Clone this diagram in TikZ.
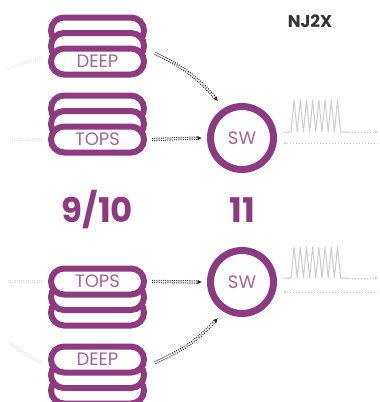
\documentclass[tikz,border=0pt]{standalone}
\usepackage{fontspec}
\setmainfont{Poppins}
\usetikzlibrary{arrows.meta}
\definecolor{plum}{RGB}{142,58,128}
\definecolor{plumtext}{RGB}{165,100,152}
\definecolor{wavegrey}{RGB}{205,205,205}

\begin{document}
\begin{tikzpicture}[x=1pt, y=-1pt,
		pill/.style={draw=plum, line width=6pt, fill=white, rounded corners=13pt, minimum width=93pt, minimum height=26pt, inner sep=0pt, text=plumtext, font=\fontsize{18}{18}\selectfont},
		switch/.style={circle, draw=plum, line width=7pt, minimum size=63pt, inner sep=0pt, text=plumtext, font=\fontsize{18}{18}\selectfont},
		big/.style={text=plum, font=\bfseries\fontsize{34}{34}\selectfont},
		sig/.style={draw=black!85, double, double distance=1.3pt, line width=1pt, dash pattern=on 1pt off 1.2pt, -{Latex[length=4.5pt,width=4.5pt]}},
		faint/.style={draw=black!15, double, double distance=1.2pt, line width=0.8pt, dash pattern=on 0.9pt off 1.3pt},
		wave/.style={draw=wavegrey, line width=1pt, line join=round},
		wavedot/.style={draw=wavegrey, line width=1pt, dash pattern=on 1pt off 2pt, -{Latex[length=3pt,width=3pt]}}]
	\useasboundingbox (0,0) rectangle (380,402);

	% upper stacks
	\node[pill] (deepC) at (97.5,30.5) {};
	\node[pill] (deepB) at (97.5,46) {};
	\node[pill] (deep1) at (97.5,61.5) {DEEP};
	\node[pill] (topsC) at (97.5,108.5) {};
	\node[pill] (topsB) at (97.5,124) {};
	\node[pill] (tops1) at (97.5,139.5) {TOPS};

	% lower stacks
	\node[pill] (topsE) at (97.5,312.5) {};
	\node[pill] (topsD) at (97.5,297) {};
	\node[pill] (tops2) at (97.5,281.5) {TOPS};
	\node[pill] (deepE) at (97.5,390.5) {};
	\node[pill] (deepD) at (97.5,375) {};
	\node[pill] (deep2) at (97.5,359.5) {DEEP};

	% switches and labels
	\node[switch] (sw1) at (242,138) {SW};
	\node[switch] (sw2) at (242,282) {SW};
	\node[big] (ratioA) at (97.5,210) {9/10};
	\node[big] (ratioB) at (242,210) {11};
	\node[text=black!80, font=\bfseries\fontsize{17}{17}\selectfont] (model) at (310,21) {NJ2X};

	% feeds into the switches
	\draw[sig] ([shift={(8,-8)}]deep1.east) to[bend left=12] ([shift={(-5,-7.5)}]sw1.123);
	\draw[sig] ([xshift=5pt]tops1.east) -- ([xshift=-5pt]sw1.west);
	\draw[sig] ([xshift=5pt]tops2.east) -- ([xshift=-5pt]sw2.west);
	\draw[sig] ([shift={(8,3)}]deep2.east) to[bend right=12] ([shift={(-4.5,7)}]sw2.236);

	% faint inputs on the left
	\coordinate (inA) at (8,69);
	\coordinate (inB) at (8,140);
	\coordinate (inC) at (8,281.5);
	\coordinate (inD) at (10,343);
	\draw[faint] (inA) to[bend left=4] ([shift={(-6,-3.5)}]deep1.west);
	\draw[faint] (inB) -- ([xshift=-5pt]tops1.west);
	\draw[faint] (inC) -- ([xshift=-5pt]tops2.west);
	\draw[faint] (inD) to[bend right=4] ([shift={(-6,3.5)}]deep2.west);

	% output waves
	\coordinate (waveA) at ([shift={(6,-6)}]sw1.east);
	\draw[wave] (waveA) -- ++(8,0) \foreach \k in {1,...,8}{ -- ++(3.1,-32) -- ++(3.1,32)} -- ++(8,0) coordinate (waveB);
	\coordinate (waveEnd) at (378,132);
	\draw[wavedot] (waveB) -- (waveEnd);
	\coordinate (backA) at (378,143);
	\coordinate (backB) at ([shift={(6,5)}]sw1.east);
	\draw[wavedot] (backA) -- (backB);

	\coordinate (waveC) at ([shift={(6,-4)}]sw2.east);
	\draw[wave] (waveC) -- ++(8,0) \foreach \k in {1,...,8}{ -- ++(3.1,-31) -- ++(3.1,31)} -- ++(8,0) coordinate (waveD);
	\coordinate (waveEnd2) at (378,278);
	\draw[wavedot] (waveD) -- (waveEnd2);
	\coordinate (backC) at (378,292);
	\coordinate (backD) at ([shift={(6,10)}]sw2.east);
	\draw[wavedot] (backC) -- (backD);
\end{tikzpicture}
\end{document}
